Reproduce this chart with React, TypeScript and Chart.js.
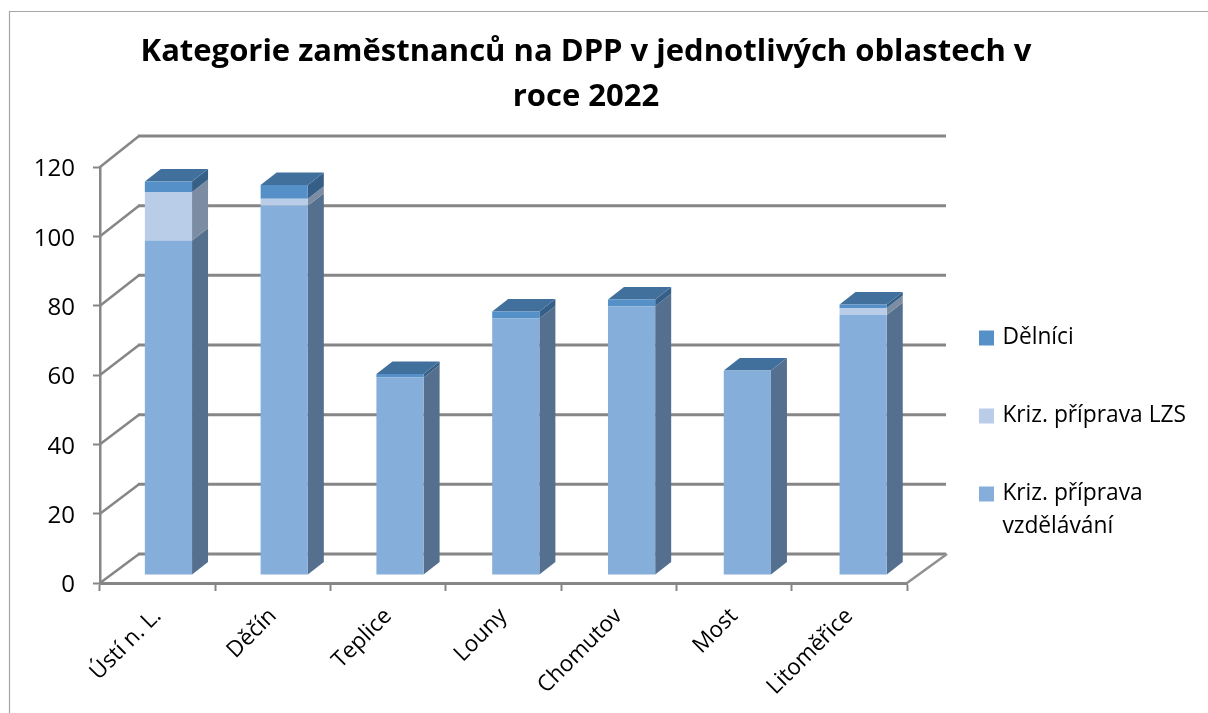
import React, { useEffect, useRef } from "react";
import { Chart, registerables } from "chart.js";

Chart.register(...registerables);

const categories = ["Ústí n. L.", "Děčín", "Teplice", "Louny", "Chomutov", "Most", "Litoměřice"];
const vzdelavani = [96.5, 106.5, 57, 74, 77.5, 59, 75];
const lzs = [14, 2, 0, 0, 0, 0, 2];
const delnici = [3, 4, 1, 2, 2, 0, 1];
const titleLines = ["Kategorie zaměstnanců na DPP v jednotlivých oblastech v", "roce 2022"];
const FONT = "'Open Sans', sans-serif";
const AXIS = "#868686";

const wall = { left: 139, right: 946 };
const plane = { k: 115.8 / 115.3, dx: 10.11, dy: -8 };
const depth = { x: 16, y: -12.5 };
const sideColors = ["#55708F", "#7B8CA3", "#365F87"];
const topColor = "#41709C";
const mapX = (v: number) => v * plane.k + plane.dx;

const scene = {
  id: "scene3d",
  beforeDraw(chart: any) {
    const c = chart.ctx;
    c.save();
    c.strokeStyle = "#A6A6A6";
    c.lineWidth = 1.2;
    c.beginPath();
    c.moveTo(9.5, 713);
    c.lineTo(9.5, 11.5);
    c.lineTo(1208, 11.5);
    c.stroke();
    c.restore();
    const y = chart.scales.y;
    y._labelItems = y._computeLabelItems(chart.chartArea);
    y._labelItems.forEach((it: any) => {
      it.options.translation[1] += 2.5;
    });
  },
  afterLayout(chart: any) {
    const lg = chart.legend;
    const pad = lg.options.labels.padding;
    lg.left = 982 - pad;
    lg.top = 326.5 - pad;
    lg.right = 1208;
    lg.bottom = 713;
    lg.width = lg.right - lg.left;
    lg.height = lg.bottom - lg.top;
    const tb = chart.titleBlock;
    tb.left = 0;
    tb.right = 1172;
    tb.width = 1172;
  },
  beforeDatasetsDraw(chart: any) {
    const c = chart.ctx;
    const y = chart.scales.y;
    const area = chart.chartArea;
    const backY = (v: number) => y.getPixelForValue(v) - 29 - (2 * v) / 120;
    c.save();
    c.strokeStyle = AXIS;
    y.ticks.forEach((t: any) => {
      const py = y.getPixelForValue(t.value);
      const by = backY(t.value);
      c.lineWidth = 2.5;
      c.beginPath();
      c.moveTo(area.left, py);
      c.lineTo(wall.left, by);
      c.stroke();
      c.lineWidth = 3;
      c.beginPath();
      c.moveTo(wall.left - 1, by);
      c.lineTo(wall.right, by);
      c.stroke();
    });
    c.strokeStyle = "#909090";
    c.lineWidth = 2.5;
    c.beginPath();
    c.moveTo(area.right, area.bottom);
    c.lineTo(wall.right + 1, backY(0));
    c.stroke();

    const n = chart.data.datasets.length;
    chart.data.datasets.forEach((_: any, di: number) => {
      chart.getDatasetMeta(di).data.forEach((b: any) => {
        const p = b.getProps(["x", "y", "base", "width"], true);
        const r = mapX(p.x + p.width / 2);
        const t = p.y + plane.dy;
        const bt = p.base + plane.dy;
        c.fillStyle = sideColors[di];
        c.beginPath();
        c.moveTo(r, t);
        c.lineTo(r + depth.x, t + depth.y);
        c.lineTo(r + depth.x, bt + depth.y);
        c.lineTo(r, bt);
        c.closePath();
        c.fill();
        if (di === n - 1) {
          const l = mapX(p.x - p.width / 2);
          c.fillStyle = topColor;
          c.beginPath();
          c.moveTo(l, t);
          c.lineTo(l + depth.x, t + depth.y);
          c.lineTo(r + depth.x, t + depth.y);
          c.lineTo(r, t);
          c.closePath();
          c.fill();
        }
      });
    });
    c.restore();
  },
  beforeDatasetDraw(chart: any) {
    chart.ctx.save();
    chart.ctx.transform(plane.k, 0, 0, 1, plane.dx, plane.dy);
  },
  afterDatasetDraw(chart: any) {
    chart.ctx.restore();
  },
};

export default function App() {
  const ref = useRef<HTMLCanvasElement>(null);
  useEffect(() => {
    const chart = new Chart(ref.current as HTMLCanvasElement, {
      type: "bar",
      plugins: [scene],
      data: {
        labels: categories,
        datasets: [
          { label: ["Kriz. příprava", "vzdělávání"] as any, data: vzdelavani, backgroundColor: "#85AEDB" },
          { label: "Kriz. příprava LZS", data: lzs, backgroundColor: "#B9CDE8" },
          { label: "Dělníci", data: delnici, backgroundColor: "#5590C8" },
        ],
      },
      options: {
        responsive: false,
        animation: false,
        events: [],
        layout: { padding: { left: 0, right: 301, top: 0, bottom: 0 } },
        datasets: { bar: { barPercentage: 47 / 115.3, categoryPercentage: 1, borderWidth: 0 } },
        scales: {
          x: {
            stacked: true,
            afterFit: (s: any) => { s.height = 130; },
            grid: { drawOnChartArea: false, drawTicks: true, tickLength: 8, tickColor: AXIS, tickWidth: 2 },
            border: { color: AXIS, width: 3 },
            ticks: {
              autoSkip: false,
              minRotation: 45,
              maxRotation: 45,
              padding: 12,
              color: "#000",
              font: { family: FONT, size: 22.5 },
            },
          },
          y: {
            stacked: true,
            min: 0,
            max: 120,
            afterFit: (s: any) => { s.width = 100; },
            grid: { drawOnChartArea: false, drawTicks: true, tickLength: 7, tickColor: AXIS, tickWidth: 2 },
            border: { color: AXIS, width: 2.5 },
            ticks: {
              stepSize: 20,
              padding: 18,
              color: "#000",
              font: { family: FONT, size: 24 },
            },
          },
        },
        plugins: {
          tooltip: { enabled: false },
          title: {
            display: true,
            text: titleLines,
            color: "#000",
            font: { family: FONT, size: 31, weight: "bold", lineHeight: 45 / 31 },
            padding: { top: 29.5, bottom: 47.5 },
          },
          legend: {
            display: true,
            position: "chartArea",
            align: "start",
            reverse: true,
            labels: {
              boxWidth: 9,
              boxHeight: 9,
              padding: 55.25,
              color: "#000",
              font: { family: FONT, size: 22.75, lineHeight: 33 / 22.75 },
              generateLabels: (chart: any) =>
                Chart.defaults.plugins.legend.labels.generateLabels(chart).map((item: any) => ({
                  ...item,
                  lineWidth: 6,
                  strokeStyle: item.fillStyle,
                })),
            },
          },
        },
      } as any,
    });
    return () => chart.destroy();
  }, []);
  return (
    <div style={{ position: "absolute", left: 0, top: 0, width: 1208, height: 713, overflow: "hidden", background: "#fff" }}>
      <canvas ref={ref} width={1208} height={713} style={{ display: "block" }} />
    </div>
  );
}
